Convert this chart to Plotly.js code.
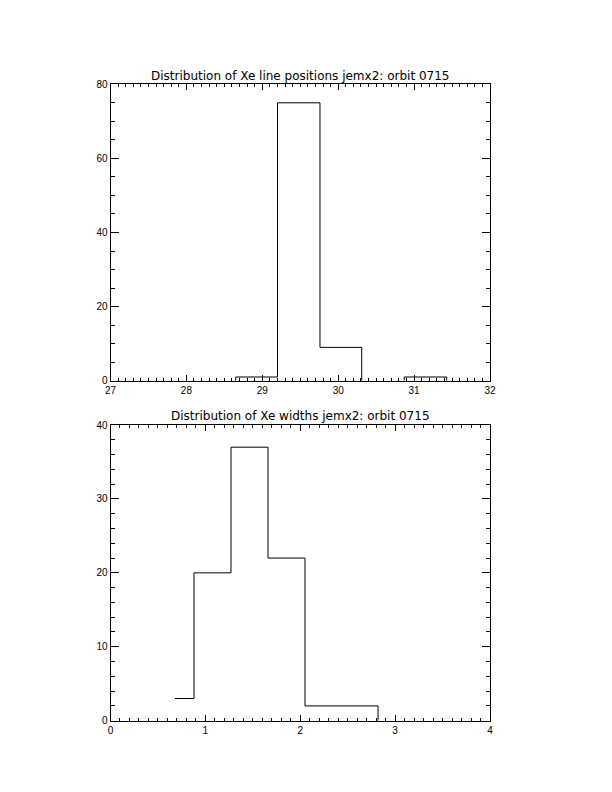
<!DOCTYPE html>
<html>
<head>
<meta charset="utf-8">
<script src="https://cdn.plot.ly/plotly-3.0.1.min.js"></script>
<style>html,body{margin:0;padding:0;background:#fff;}#chart{width:612px;height:792px;}</style>
</head>
<body>
<div id="chart"></div>
<script>
// Top histogram: Xe line positions (bin edges and counts)
var posEdges = [28.09, 28.65, 29.20, 29.76, 30.31, 30.87, 31.43, 31.98];
var posCounts = [0, 1, 75, 9, 0, 1, 0];
// Bottom histogram: Xe widths (bin edges and counts)
var widEdges = [0.68, 0.88, 1.27, 1.66, 2.05, 2.43, 2.82, 3.21];
var widCounts = [3, 20, 37, 22, 2, 2, 0];

var title1 = "Distribution of Xe line positions jemx2: orbit 0715";
var title2 = "Distribution of Xe widths jemx2: orbit 0715";

// Build a histogram step outline; zero-level runs lie on the axis and are left out
function stepPath(edges, counts){
  var pts = [[edges[0], counts[0]]];
  for (var i = 0; i < counts.length; i++){
    pts.push([edges[i+1], counts[i]]);
    if (i + 1 < counts.length) pts.push([edges[i+1], counts[i+1]]);
  }
  var xs = [], ys = [];
  for (var k = 0; k < pts.length; k++){
    if (k > 0 && pts[k-1][1] === 0 && pts[k][1] === 0){ xs.push(null); ys.push(null); }
    xs.push(pts[k][0]); ys.push(pts[k][1]);
  }
  return {x: xs, y: ys};
}

var p1 = stepPath(posEdges, posCounts);
var p2 = stepPath(widEdges, widCounts);
var lineStyle = {color:'black', width:1};
var traces = [
  {x: p1.x, y: p1.y, type:'scatter', mode:'lines', line: lineStyle, connectgaps:false, xaxis:'x', yaxis:'y', hoverinfo:'skip'},
  {x: p2.x, y: p2.y, type:'scatter', mode:'lines', line: lineStyle, connectgaps:false, xaxis:'x2', yaxis:'y2', hoverinfo:'skip'}
];

var tickFont = {family:'Liberation Sans, Arial, sans-serif', size:10, color:'black'};
function xax(range, domain, anchor){
  return {domain:domain, range:range, anchor:anchor, dtick:1, tick0:0, ticks:'inside', ticklen:6, tickwidth:1,
    tickcolor:'black', showline:true, linecolor:'black', linewidth:1, mirror:'ticks', showgrid:false, zeroline:false,
    tickfont:tickFont, fixedrange:true,
    minor:{dtick:0.1, tick0:0, ticks:'inside', ticklen:3, tickcolor:'black', tickwidth:1, showgrid:false}};
}
function yax(range, dtick, minorDtick, domain, anchor){
  return {domain:domain, range:range, anchor:anchor, dtick:dtick, tick0:0, ticks:'inside', ticklen:8, tickwidth:1,
    tickcolor:'black', showline:true, linecolor:'black', linewidth:1, mirror:'ticks', showgrid:false, zeroline:false,
    tickfont:tickFont, fixedrange:true,
    minor:{dtick:minorDtick, tick0:0, ticks:'inside', ticklen:4, tickcolor:'black', tickwidth:1, showgrid:false}};
}

var xd = [110.5/612, 490/612];
var y1d = [1-380.7/792, 1-84.3/792];
var y2d = [1-720.7/792, 1-425/792];
var titleFont = {family:'DejaVu Sans, sans-serif', size:12, color:'black'};

var layout = {
  width:612, height:792,
  margin:{l:0, r:0, t:0, b:0},
  paper_bgcolor:'white', plot_bgcolor:'white',
  showlegend:false,
  xaxis: xax([27,32], xd, 'y'),
  yaxis: yax([0,80], 20, 5, y1d, 'x'),
  xaxis2: xax([0,4], xd, 'y2'),
  yaxis2: yax([0,40], 10, 2, y2d, 'x2'),
  annotations:[
    {text:title1, xref:'paper', yref:'paper', x:(xd[0]+xd[1])/2, y:1-75.7/792, xanchor:'center', yanchor:'middle', showarrow:false, font:titleFont},
    {text:title2, xref:'paper', yref:'paper', x:(xd[0]+xd[1])/2, y:1-415.7/792, xanchor:'center', yanchor:'middle', showarrow:false, font:titleFont}
  ]
};

Plotly.newPlot('chart', traces, layout, {staticPlot:true, displayModeBar:false});
</script>
</body>
</html>
